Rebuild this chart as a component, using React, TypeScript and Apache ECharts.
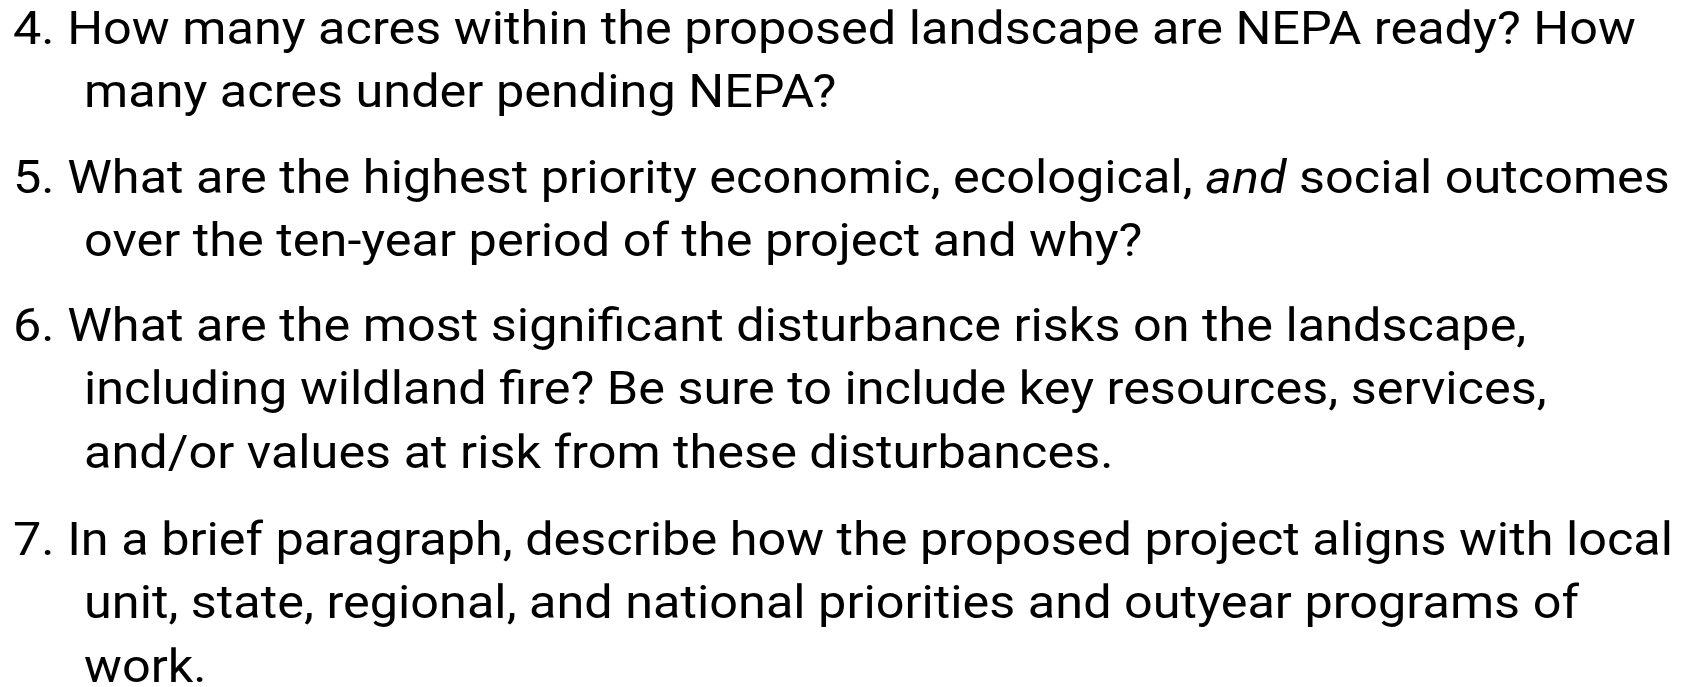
import React, { useEffect, useRef } from "react";
import * as echarts from "echarts";

// ---- content ----
const itemNumbers = ["4.", "5.", "6.", "7."];
const item4Lines = [
  "How many acres within the proposed landscape are NEPA ready? How",
  "many acres under pending NEPA?",
];
const item5Lines = [
  "What are the highest priority economic, ecological, {i|and} social outcomes",
  "over the ten-year period of the project and why?",
];
const item6Lines = [
  "What are the most significant disturbance risks on the landscape,",
  "including wildland fire? Be sure to include key resources, services,",
  "and/or values at risk from these disturbances.",
];
const item7Lines = [
  "In a brief paragraph, describe how the proposed project aligns with local",
  "unit, state, regional, and national priorities and outyear programs of",
  "work.",
];
const items = [item4Lines, item5Lines, item6Lines, item7Lines];

// ---- layout ----
const W = 1698;
const H = 687;
const FONT = "Roboto";
const FS = 47;
const LINE_H = 63.5;
const NUM_X = 13;
const INDENT_X = 84;
const FIRST_BASELINES = [44, 193, 341, 555];
// measured widths of the first line of items 4, 5 and 7 in the reference
const TARGET_WIDTHS = [1620, 1663, 1660];
const TARGET_ITEMS = [0, 1, 3];

function plain(s: string) {
  return s.replace(/\{i\|([^}]*)\}/g, "$1");
}

function toRich(text: string) {
  if (!text.includes("{i|")) return text;
  const parts = text.split(/(\{i\|[^}]*\})/).filter((p) => p.length > 0);
  return parts.map((p) => (p.startsWith("{i|") ? p : `{n|${p}}`)).join("");
}

export default function App() {
  const ref = useRef<HTMLDivElement>(null);
  useEffect(() => {
    if (!ref.current) return;
    const chart = echarts.init(ref.current, null, { renderer: "svg" });

    const canvas = document.createElement("canvas");
    const ctx = canvas.getContext("2d")!;
    ctx.font = `${FS}px ${FONT}`;
    let ratioSum = 0;
    let n = 0;
    TARGET_ITEMS.forEach((ii, k) => {
      const w = ctx.measureText(itemNumbers[ii] + " " + plain(items[ii][0])).width;
      if (w > 0) {
        ratioSum += TARGET_WIDTHS[k] / w;
        n++;
      }
    });
    const sx = n > 0 ? ratioSum / n : 1;

    const elements: any[] = [];
    items.forEach((lines, ii) => {
      lines.forEach((line, li) => {
        const text = li === 0 ? `${itemNumbers[ii]} ${line}` : line;
        const baseline = FIRST_BASELINES[ii] + li * LINE_H;
        elements.push({
          type: "group",
          x: li === 0 ? NUM_X : INDENT_X,
          y: baseline - 0.34 * FS,
          scaleX: sx,
          children: [
            {
              type: "text",
              x: 0,
              y: 0,
              style: {
                text: toRich(text),
                fontFamily: FONT,
                fontSize: FS,
                lineHeight: FS,
                fill: "#000",
                verticalAlign: "middle",
                align: "left",
                rich: {
                  n: { fontFamily: FONT, fontSize: FS, lineHeight: FS, fill: "#000" },
                  i: { fontFamily: FONT, fontSize: FS, lineHeight: FS, fill: "#000", fontStyle: "italic" },
                },
              },
            },
          ],
        });
      });
    });

    chart.setOption({
      animation: false,
      backgroundColor: "#ffffff",
      graphic: { elements },
    });
    return () => chart.dispose();
  }, []);
  return (
    <div
      ref={ref}
      style={{ position: "absolute", left: 0, top: 0, width: W, height: H, background: "#fff" }}
    />
  );
}
